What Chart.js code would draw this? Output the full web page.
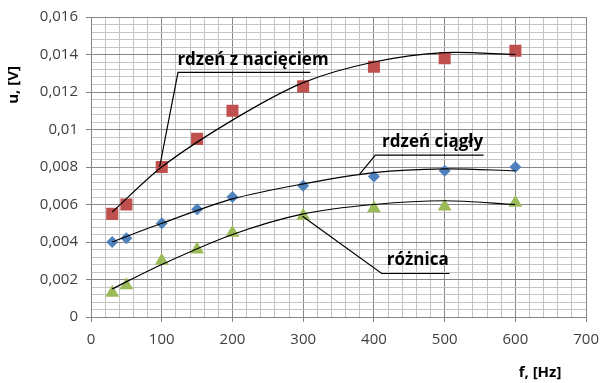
<!DOCTYPE html>
<html>
<head>
<meta charset="utf-8">
<script src="https://cdn.jsdelivr.net/npm/chart.js@4.4.1/dist/chart.umd.min.js"></script>
<style>
  html, body { margin: 0; padding: 0; background: #fff; }
  #wrap { width: 608px; height: 383px; }
</style>
</head>
<body>
<div id="wrap"><canvas id="chart"></canvas></div>
<script>
// measured points
const freq = [30, 50, 100, 150, 200, 300, 400, 500, 600];
const uNotched = [0.0055, 0.0060, 0.0080, 0.0095, 0.0110, 0.0123, 0.01335, 0.0138, 0.0142];
const uSolid = [0.0040, 0.0042, 0.0050, 0.00575, 0.0064, 0.0070, 0.0075, 0.0078, 0.0080];
const uDiff = [0.0013, 0.0017, 0.0030, 0.0036, 0.0045, 0.0054, 0.0058, 0.0059, 0.0061];

// trendlines
const trendF = [30, 100, 200, 300, 400, 500, 600];
const trendNotched = [0.0056, 0.0080, 0.0105, 0.0125, 0.0136, 0.0141, 0.0140];
const trendSolid = [0.0040, 0.0050, 0.0063, 0.0071, 0.0077, 0.0079, 0.0078];
const trendDiff = [0.0015, 0.0028, 0.0044, 0.0055, 0.0060, 0.0062, 0.0060];

const FONT = '"Open Sans", "DejaVu Sans", sans-serif';

const pts = (xs, ys) => xs.map((x, i) => ({ x: x, y: ys[i] }));

// callouts: text, underline and leader, all in data units
const callouts = [
  { text: 'rdzeń z nacięciem', tx: 229, ty: 0.01368, x1: 123, x2: 310, ly: 0.01305, ex: 97, ey: 0.0080 },
  { text: 'rdzeń ciągły', tx: 483, ty: 0.00932, x1: 402, x2: 555, ly: 0.00863, ex: 379, ey: 0.00758 },
  { text: 'różnica', tx: 462, ty: 0.00305, x1: 411, x2: 507, ly: 0.00232, ex: 299, ey: 0.00537 }
];

const decorations = {
  id: 'decorations',
  afterDatasetsDraw(chart) {
    const ctx = chart.ctx;
    const xs = chart.scales.x, ys = chart.scales.y;
    ctx.save();
    ctx.strokeStyle = '#000';
    ctx.lineWidth = 1.2;
    ctx.fillStyle = '#000';
    ctx.font = 'bold 17px ' + FONT;
    ctx.textAlign = 'center';
    ctx.textBaseline = 'middle';
    callouts.forEach(c => {
      ctx.beginPath();
      ctx.moveTo(xs.getPixelForValue(c.x2), ys.getPixelForValue(c.ly));
      ctx.lineTo(xs.getPixelForValue(c.x1), ys.getPixelForValue(c.ly));
      ctx.lineTo(xs.getPixelForValue(c.ex), ys.getPixelForValue(c.ey));
      ctx.stroke();
      ctx.fillText(c.text, xs.getPixelForValue(c.tx), ys.getPixelForValue(c.ty));
    });
    ctx.restore();
  },
  afterDraw(chart) {
    const ctx = chart.ctx;
    ctx.save();
    ctx.fillStyle = '#000';
    ctx.font = 'bold 15px ' + FONT;
    ctx.textAlign = 'center';
    ctx.textBaseline = 'middle';
    ctx.fillText('f, [Hz]', 540, 373);
    ctx.translate(14, 85);
    ctx.rotate(-Math.PI / 2);
    ctx.fillText('u, [V]', 0, 0);
    ctx.restore();
  }
};

const isMajor = (v, step, every) => Math.round(v / step) % every === 0;
const fmt = v => parseFloat(v.toFixed(4)).toString().replace('.', ',');

new Chart(document.getElementById('chart'), {
  type: 'scatter',
  data: {
    datasets: [
      { data: pts(trendF, trendNotched), showLine: true, borderColor: '#000', borderWidth: 1.2, pointRadius: 0, tension: 0.3, order: 0 },
      { data: pts(trendF, trendSolid), showLine: true, borderColor: '#000', borderWidth: 1.2, pointRadius: 0, tension: 0.3, order: 0 },
      { data: pts(trendF, trendDiff), showLine: true, borderColor: '#000', borderWidth: 1.2, pointRadius: 0, tension: 0.3, order: 0 },
      { data: pts(freq, uNotched), pointStyle: 'rect', pointRadius: 8.5, backgroundColor: '#C0504D', borderColor: '#C0504D', borderWidth: 0, order: 1 },
      { data: pts(freq, uSolid), pointStyle: 'rectRot', pointRadius: 6, backgroundColor: '#4F81BD', borderColor: '#4F81BD', borderWidth: 0, order: 1 },
      { data: pts(freq, uDiff), pointStyle: 'triangle', pointRadius: 8, backgroundColor: '#9BBB59', borderColor: '#9BBB59', borderWidth: 0, order: 1 }
    ]
  },
  options: {
    responsive: true,
    maintainAspectRatio: false,
    animation: false,
    layout: { padding: { left: 0, top: 13, right: 16, bottom: 0 } },
    plugins: { legend: { display: false }, tooltip: { enabled: false } },
    scales: {
      x: {
        type: 'linear',
        min: 0, max: 700,
        afterFit: s => { s.height = 66; },
        border: { color: '#868686' },
        grid: {
          color: c => isMajor(c.tick.value, 20, 5) ? '#868686' : '#c4c4c4',
          tickColor: c => isMajor(c.tick.value, 20, 5) ? '#868686' : 'rgba(0,0,0,0)',
          tickLength: 5
        },
        ticks: {
          stepSize: 20,
          autoSkip: false,
          maxRotation: 0,
          padding: 9,
          color: '#404040',
          font: { family: FONT, size: 15 },
          callback: v => isMajor(v, 20, 5) ? String(v) : ''
        }
      },
      y: {
        min: 0, max: 0.016,
        afterFit: s => { s.width = 91; },
        border: { color: '#868686' },
        grid: {
          color: c => isMajor(c.tick.value, 0.0004, 5) ? '#868686' : '#c4c4c4',
          tickColor: c => isMajor(c.tick.value, 0.0004, 5) ? '#868686' : 'rgba(0,0,0,0)',
          tickLength: 5
        },
        ticks: {
          stepSize: 0.0004,
          autoSkip: false,
          padding: 8,
          color: '#404040',
          font: { family: FONT, size: 15 },
          callback: v => isMajor(v, 0.0004, 5) ? fmt(v) : ''
        }
      }
    }
  },
  plugins: [decorations]
});
</script>
</body>
</html>
